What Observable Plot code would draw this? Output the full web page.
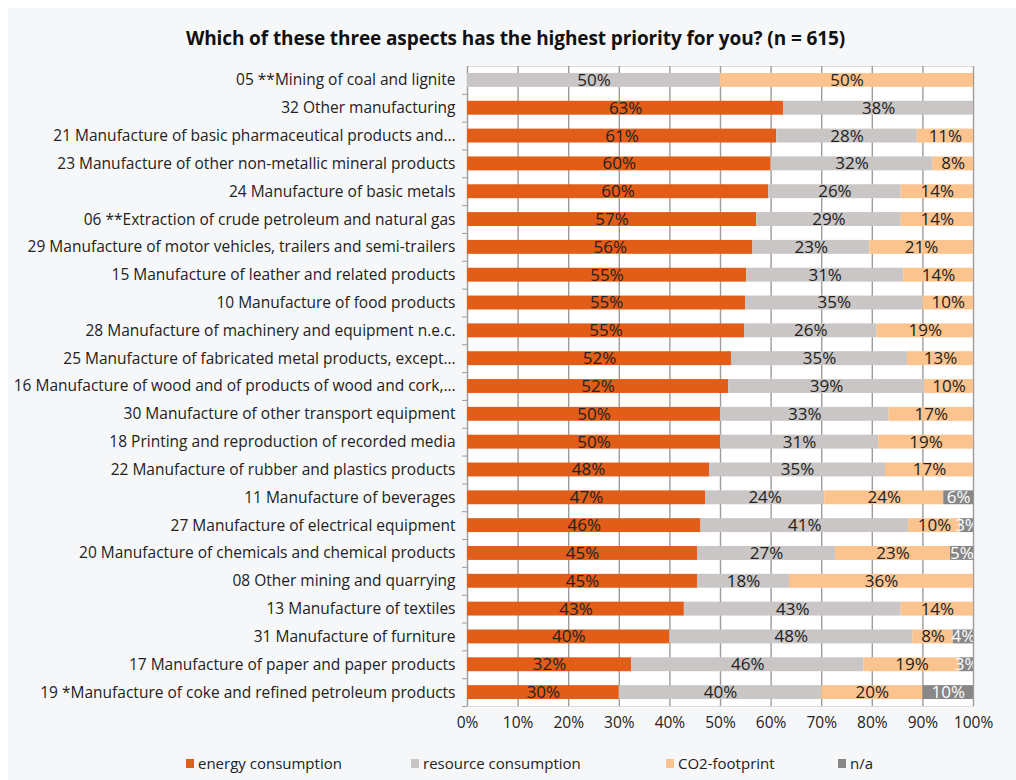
<!DOCTYPE html>
<html>
<head>
<meta charset="utf-8">
<script src="https://cdn.jsdelivr.net/npm/d3@7"></script>
<script src="https://cdn.jsdelivr.net/npm/@observablehq/plot@0.6"></script>
<style>
  html, body { margin: 0; padding: 0; background: #ffffff; }
  #outer { width: 1016px; height: 780px; padding: 8px 0 0 8px; box-sizing: border-box; background: #fff; }
  #panel { width: 1008px; height: 772px; background: #f6f7f9; font-family: "Open Sans", sans-serif; color: #222; }
  #title { height: 20px; line-height: 20px; padding-top: 20px; text-align: center; font-weight: bold; font-size: 19px; color: #111; padding-left: 7px; letter-spacing: -0.1px; }
  #legend { display: flex; padding-top: 18px; padding-left: 178px; font-size: 15px; line-height: 18px; color: #222; }
  .item { display: flex; align-items: center; flex: none; }
  .item:nth-child(1) { width: 225px; }
  .item:nth-child(2) { width: 255px; }
  .item:nth-child(3) { width: 172px; }
  .sw { width: 8px; height: 9px; margin-right: 4px; display: inline-block; }
</style>
</head>
<body>
<div id="outer"><div id="panel">
  <div id="title">Which of these three aspects has the highest priority for you? (n = 615)</div>
  <div id="chart"></div>
  <div id="legend"></div>
</div></div>
<script>
const categories = [
  "05 **Mining of coal and lignite",
  "32 Other manufacturing",
  "21 Manufacture of basic pharmaceutical products and…",
  "23 Manufacture of other non-metallic mineral products",
  "24 Manufacture of basic metals",
  "06 **Extraction of crude petroleum and natural gas",
  "29 Manufacture of motor vehicles, trailers and semi-trailers",
  "15 Manufacture of leather and related products",
  "10 Manufacture of food products",
  "28 Manufacture of machinery and equipment n.e.c.",
  "25 Manufacture of fabricated metal products, except…",
  "16 Manufacture of wood and of products of wood and cork,…",
  "30 Manufacture of other transport equipment",
  "18 Printing and reproduction of recorded media",
  "22 Manufacture of rubber and plastics products",
  "11 Manufacture of beverages",
  "27 Manufacture of electrical equipment",
  "20 Manufacture of chemicals and chemical products",
  "08 Other mining and quarrying",
  "13 Manufacture of textiles",
  "31 Manufacture of furniture",
  "17 Manufacture of paper and paper products",
  "19 *Manufacture of coke and refined petroleum products"
];
const energy   = [0, 62.5, 61.11, 60, 59.52, 57.14, 56.41, 55.17, 55, 54.76, 52.17, 51.61, 50, 50, 47.83, 47.06, 46.15, 45.45, 45.45, 42.86, 40, 32.43, 30];
const resource = [50, 37.5, 27.78, 32, 26.19, 28.57, 23.08, 31.03, 35, 26.19, 34.78, 38.71, 33.33, 31.25, 34.78, 23.53, 41.03, 27.27, 18.18, 42.86, 48, 45.95, 40];
const co2      = [50, 0, 11.11, 8, 14.29, 14.29, 20.51, 13.79, 10, 19.05, 13.04, 9.68, 16.67, 18.75, 17.39, 23.53, 10.26, 22.73, 36.36, 14.29, 8, 18.92, 20];
const na       = [0, 0, 0, 0, 0, 0, 0, 0, 0, 0, 0, 0, 0, 0, 0, 5.88, 2.56, 4.55, 0, 0, 4, 2.70, 10];
const types = ["energy consumption", "resource consumption", "CO2-footprint", "n/a"];
const colors = ["#e25d17", "#c9c6c5", "#fbc48f", "#878787"];
const xTicks = [0, 10, 20, 30, 40, 50, 60, 70, 80, 90, 100];

const series = [energy, resource, co2, na];
const rows = categories.flatMap((c, i) =>
  types.map((t, j) => ({cat: c, type: t, value: series[j][i]}))
).filter(d => d.value > 0);

const step = 640 / categories.length;

const chart = Plot.plot({
  width: 1008,
  height: 688,
  marginLeft: 459,
  marginRight: 43,
  marginTop: 18,
  marginBottom: 30,
  style: {fontFamily: "Open Sans, sans-serif", fontSize: "15.5px", color: "#222", background: "transparent"},
  x: {domain: [0, 100], label: null},
  y: {domain: categories, paddingInner: 0.5, paddingOuter: 0.25, round: false, label: null},
  color: {domain: types, range: colors},
  marks: [
    Plot.frame({fill: "white", stroke: "#dcdcdc"}),
    Plot.ruleX(xTicks, {stroke: "#9c9c9c", strokeWidth: 1.4}),
    Plot.barX(rows, {x: "value", y: "cat", fill: "type"}),
    Plot.text(rows, Plot.stackX({
      x: "value", y: "cat", z: "type",
      text: d => Math.round(d.value) + "%",
      fill: d => d.type === "n/a" ? "white" : "#222",
      fontSize: 17,
      clip: true
    })),
    Plot.axisY({tickSize: 5, text: null, dy: step / 2, stroke: "#9c9c9c"}),
    Plot.axisY({tickSize: 0, tickPadding: 12, fontSize: 15.5}),
    Plot.axisX({ticks: xTicks, tickFormat: d => d + "%", tickSize: 0, tickPadding: 10, fontSize: 15.5})
  ]
});
document.getElementById("chart").appendChild(chart);

const legend = document.getElementById("legend");
types.forEach((t, j) => {
  const item = document.createElement("div");
  item.className = "item";
  const sw = document.createElement("span");
  sw.className = "sw";
  sw.style.background = colors[j];
  const lab = document.createElement("span");
  lab.textContent = t;
  item.appendChild(sw);
  item.appendChild(lab);
  legend.appendChild(item);
});
</script>
</body>
</html>
